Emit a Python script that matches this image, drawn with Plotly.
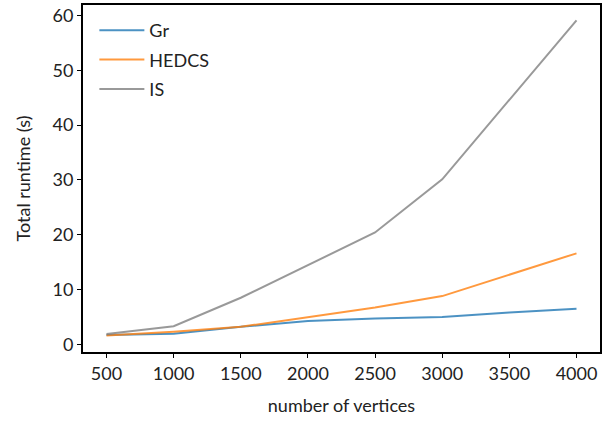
import plotly.graph_objects as go

vertices = [500, 1000, 1500, 2000, 2500, 3000, 3500, 4000]
gr = [1.7, 1.95, 3.2, 4.25, 4.7, 5.0, 5.8, 6.5]
hedcs = [1.6, 2.3, 3.2, 5.0, 6.7, 8.8, 12.7, 16.6]
is_vals = [1.9, 3.3, 8.5, 14.4, 20.4, 30.1, 44.7, 59.1]

series = [("Gr", gr, "rgba(31,119,180,0.8)"),
          ("HEDCS", hedcs, "rgba(255,127,14,0.8)"),
          ("IS", is_vals, "rgba(127,127,127,0.8)")]

font = "Lato, 'Open Sans', sans-serif"
fig = go.Figure()
for name, vals, col in series:
    fig.add_trace(go.Scatter(x=vertices, y=vals, mode="lines", name=name,
                             legendgroup=name,
                             line=dict(color=col, width=2)))

fig.update_layout(
    width=602, height=422,
    margin=dict(l=83, r=2, t=5, b=70, autoexpand=False),
    plot_bgcolor="white", paper_bgcolor="white",
    font=dict(family=font, size=18, color="#222"),
    showlegend=True,
    legend=dict(x=0.022, y=0.98, xanchor="left", yanchor="top",
                bgcolor="rgba(0,0,0,0)", font=dict(size=18, family=font),
                itemwidth=45, tracegroupgap=3),
)
fig.update_xaxes(range=[325, 4175], tickvals=vertices, automargin=False,
                 showgrid=False, zeroline=False,
                 showline=True, linecolor="black", linewidth=2, mirror=True,
                 ticks="outside", ticklen=4, tickcolor="black",
                 title=dict(text="number of vertices", font=dict(size=18), standoff=17))
fig.update_yaxes(range=[-1.4, 61.9], tickvals=[0, 10, 20, 30, 40, 50, 60], automargin=False,
                 showgrid=False, zeroline=False,
                 showline=True, linecolor="black", linewidth=2, mirror=True,
                 ticks="outside", ticklen=4, tickcolor="black",
                 title=dict(text="Total runtime (s)", font=dict(size=18), standoff=17))

fig.write_html("out.html", config={"displayModeBar": False},
               post_script="document.body.style.margin='0';document.body.style.overflow='hidden';")
